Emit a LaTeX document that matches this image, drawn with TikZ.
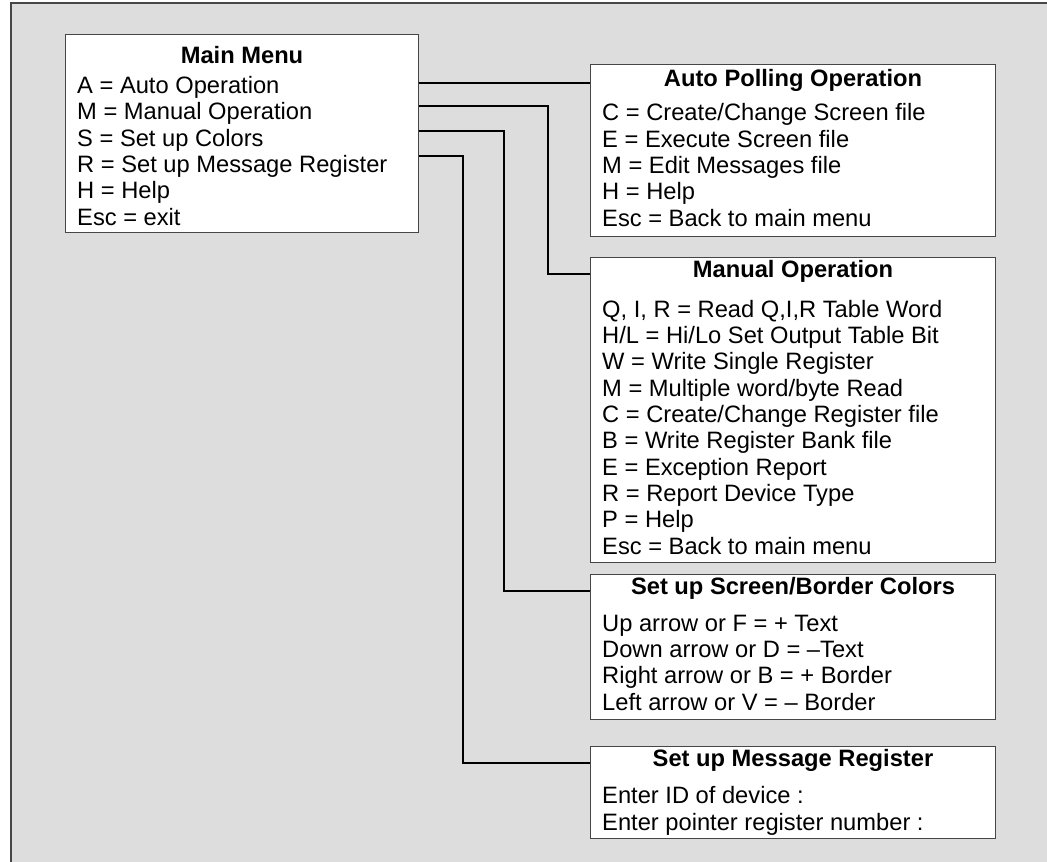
\documentclass[tikz,border=0pt]{standalone}
\usepackage{fontspec}
\setmainfont{Liberation Sans}
\usepackage{tikz}
\usetikzlibrary{positioning,calc}
\definecolor{panel}{RGB}{221,221,221}
\definecolor{edge}{RGB}{70,70,70}

\begin{document}
\begin{tikzpicture}[x=1pt, y=-1pt,
  menu/.style={draw=edge, fill=white, line width=1pt, inner sep=0pt, minimum width=405pt},
  ttl/.style={font=\fontsize{23.7}{26.3}\selectfont\bfseries, anchor=base, inner sep=0pt},
  lst/.style={font=\fontsize{23.7}{26.3}\selectfont, align=left, anchor=base west, inner sep=0pt},
  link/.style={line width=2pt}
]
\useasboundingbox (0,0) rectangle (1047,862);
\fill[panel] (11,3) rectangle (1047,862);
\draw[edge, line width=1.5pt] (11,862) -- (11,3) -- (1047,3);

% menu boxes
\node[menu, minimum width=353pt, minimum height=198pt, anchor=north west] (main) at (65,34) {};
\node[menu, minimum height=172pt, anchor=north west] (auto) at (590,64) {};
\node[menu, minimum height=305pt, below=20pt of auto] (man) {};
\node[menu, minimum height=145pt, below=11pt of man] (col) {};
\node[menu, minimum height=92pt, below=26pt of col] (msg) {};

% titles
\node[ttl] (mainT) at ($(main.north)+(0,29)$) {Main Menu};
\node[ttl] (autoT) at ($(auto.north)+(0,22)$) {Auto Polling Operation};
\node[ttl] (manT) at ($(man.north)+(0,20)$) {Manual Operation};
\node[ttl] (colT) at ($(col.north)+(0,20)$) {Set up Screen/Border Colors};
\node[ttl] (msgT) at ($(msg.north)+(0,20)$) {Set up Message Register};

% entries (anchored on the baseline of the last line)
\node[lst] (mainL) at ($(main.north west)+(12,191)$) {A = Auto Operation\\M = Manual Operation\\S = Set up Colors\\R = Set up Message Register\\H = Help\\Esc = exit};
\node[lst] (autoL) at ($(auto.north west)+(12,162)$) {C = Create/Change Screen file\\E = Execute Screen file\\M = Edit Messages file\\H = Help\\Esc = Back to main menu};
\node[lst] (manL) at ($(man.north west)+(12,297)$) {Q, I, R = Read Q,I,R Table Word\\H/L = Hi/Lo Set Output Table Bit\\W = Write Single Register\\M = Multiple word/byte Read\\C = Create/Change Register file\\B = Write Register Bank file\\E = Exception Report\\R = Report Device Type\\P = Help\\Esc = Back to main menu};
\node[lst] (colL) at ($(col.north west)+(12,136)$) {Up arrow or F = + Text\\Down arrow or D = –Text\\Right arrow or B = + Border\\Left arrow or V = – Border};
\node[lst] (msgL) at ($(msg.north west)+(12,84)$) {Enter ID of device :\\Enter pointer register number :};

% connectors
\draw[link] (main.east |- autoT.mid) -- (autoT.mid -| auto.west);
\foreach \dy/\dx/\t/\b in {72/129/manT/man, 97/85/colT/col, 122/44/msgT/msg}
  \draw[link] ($(main.north east)+(0,\dy)$) -- ++(\dx,0) |- (\t.mid -| \b.west);
\end{tikzpicture}
\end{document}
